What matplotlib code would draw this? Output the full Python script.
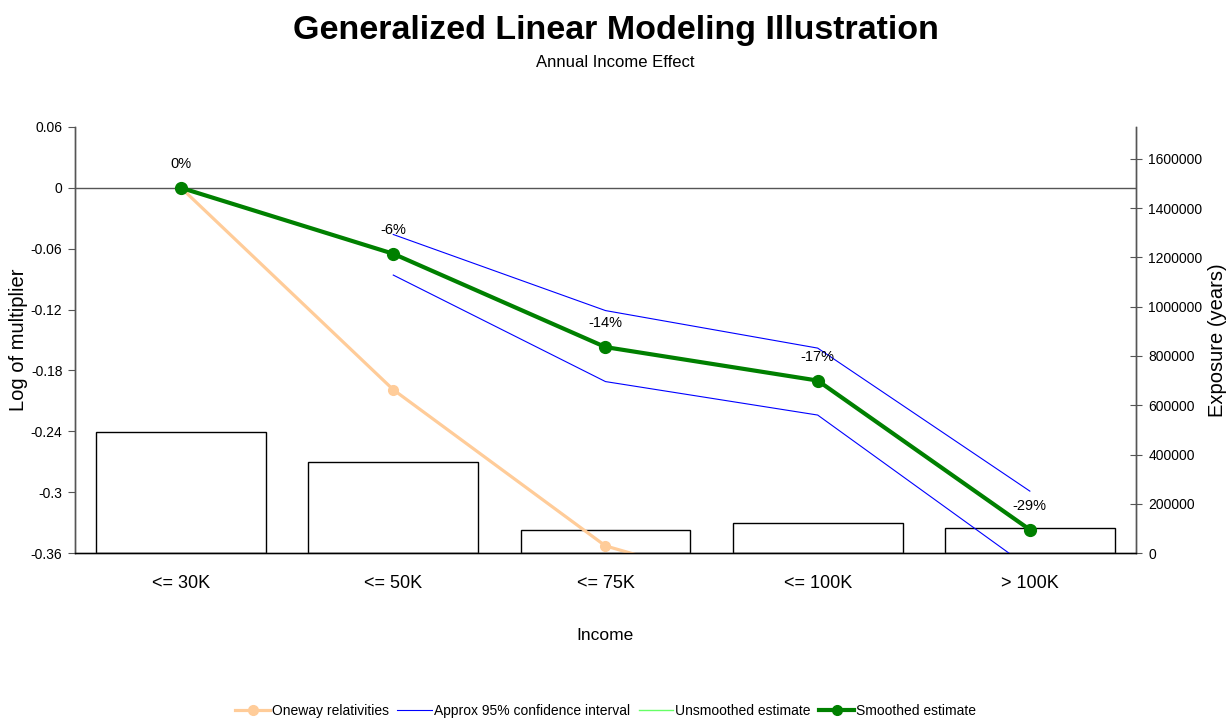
import matplotlib
matplotlib.use("Agg")
import matplotlib.pyplot as plt
from matplotlib.lines import Line2D

# data
categories = ["<= 30K", "<= 50K", "<= 75K", "<= 100K", "> 100K"]
exposure = [492000, 370000, 93500, 122000, 101700]
oneway = [0.0, -0.199, -0.353, -0.413, -0.46]
ci_upper = [None, -0.046, -0.121, -0.158, -0.299]
ci_lower = [None, -0.086, -0.191, -0.224, -0.375]
smoothed = [0.0, -0.065, -0.157, -0.190, -0.337]
unsmoothed = [0.0, -0.065, -0.157, -0.190, -0.337]
point_labels = ["0%", "-6%", "-14%", "-17%", "-29%"]

FONT = ["Liberation Sans", "DejaVu Sans"]


def main():
    fig = plt.figure(figsize=(12.31, 7.21), dpi=100)
    ax = fig.add_axes([0.0609, 0.2330, 0.8619, 0.5909])
    axb = ax.twinx()
    ax.set_zorder(axb.get_zorder() + 1)
    ax.patch.set_visible(False)

    x = list(range(len(categories)))

    # exposure bars (right axis)
    axb.bar(x, exposure, width=0.8, facecolor="white", edgecolor="black", linewidth=1.0)
    axb.set_ylim(0, 1730000)
    axb.set_yticks(range(0, 1600001, 200000))
    axb.set_yticklabels([str(v) for v in range(0, 1600001, 200000)], fontsize=10, family=FONT)
    axb.tick_params(axis="y", direction="inout", length=8, width=0.8, color="#555555", pad=5)
    axb.set_ylabel("Exposure (years)", fontsize=14.5, family=FONT, labelpad=4)

    # lines (left axis)
    ax.axhline(0, color="#555555", linewidth=1.0, zorder=1)
    ax.plot(x, oneway, color="#FFCC99", linewidth=2.3, marker="o", markersize=7, zorder=2)
    xu = [i for i, v in zip(x, ci_upper) if v is not None]
    ax.plot(xu, [v for v in ci_upper if v is not None], color="#0000FF", linewidth=0.8, zorder=3)
    ax.plot(xu, [v for v in ci_lower if v is not None], color="#0000FF", linewidth=0.8, zorder=3)
    ax.plot(x, unsmoothed, color="#66FF66", linewidth=1.0, zorder=3)
    ax.plot(x, smoothed, color="#008000", linewidth=3.0, marker="o", markersize=8.5, zorder=4)
    for xi, yi, lab in zip(x, smoothed, point_labels):
        ax.annotate(lab, (xi, yi), xytext=(0, 17), textcoords="offset points",
                    ha="center", va="center", fontsize=10.5, family=FONT)

    ax.set_xlim(-0.5, len(categories) - 0.5)
    ax.set_ylim(-0.36, 0.06)
    ticks = [0.06, 0, -0.06, -0.12, -0.18, -0.24, -0.3, -0.36]
    ax.set_yticks(ticks)
    ax.set_yticklabels(["0.06", "0", "-0.06", "-0.12", "-0.18", "-0.24", "-0.3", "-0.36"],
                       fontsize=10, family=FONT)
    ax.tick_params(axis="y", direction="out", length=5, width=0.8, color="#555555", pad=4)
    ax.set_ylabel("Log of multiplier", fontsize=14.5, family=FONT, labelpad=2)

    ax.set_xticks([i + 0.5 for i in x[:-1]])
    ax.set_xticklabels([])
    ax.set_xticks(x, minor=True)
    ax.set_xticklabels(categories, minor=True, fontsize=13, family=FONT)
    ax.tick_params(axis="x", which="major", direction="inout", length=11, width=0.8, color="#555555")
    ax.tick_params(axis="x", which="minor", length=0, pad=16)
    ax.set_xlabel("Income", fontsize=12.5, family=FONT, labelpad=26)
    axb.set_xticks([])

    for a in (ax, axb):
        a.spines["top"].set_visible(False)
        for s in ("left", "right", "bottom"):
            a.spines[s].set_color("#555555")
            a.spines[s].set_linewidth(1.0)
    ax.spines["bottom"].set_color("black")

    fig.text(0.5, 0.958, "Generalized Linear Modeling Illustration", ha="center", va="center",
             fontsize=24.5, fontweight="bold", family=FONT)
    fig.text(0.5, 0.913, "Annual Income Effect", ha="center", va="center", fontsize=12, family=FONT)

    handles = [
        Line2D([], [], color="#FFCC99", linewidth=2.3, marker="o", markersize=7),
        Line2D([], [], color="#0000FF", linewidth=0.8),
        Line2D([], [], color="#66FF66", linewidth=1.0),
        Line2D([], [], color="#008000", linewidth=3.0, marker="o", markersize=7),
    ]
    labels = ["Oneway relativities", "Approx 95% confidence interval", "Unsmoothed estimate", "Smoothed estimate"]
    fig.legend(handles, labels, loc="center", bbox_to_anchor=(0.492, 0.014), ncol=4, frameon=False,
               prop={"family": FONT, "size": 10}, handlelength=2.5, handletextpad=0.15,
               columnspacing=0.6)

    fig.savefig("out.png", dpi=100)


if __name__ == "__main__":
    main()
